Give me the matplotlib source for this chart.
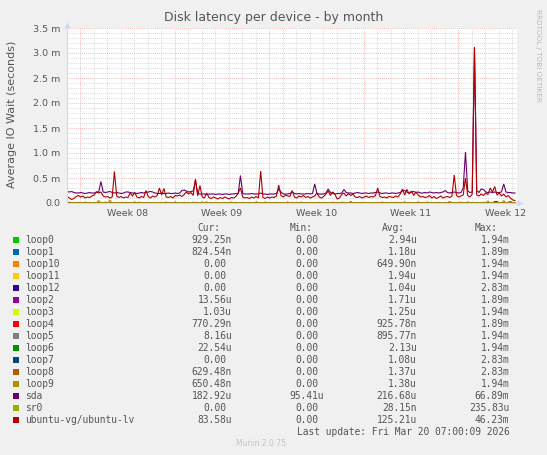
import numpy as np
import matplotlib
matplotlib.use("Agg")
import matplotlib.pyplot as plt
from matplotlib.patches import Rectangle

# ---- data (values in milliseconds, 4-hour samples) ----
start_day = -0.95          # days relative to Monday of week 08
step_day = 1 / 6

sda = [0.23, 0.22, 0.23, 0.21, 0.20, 0.20, 0.21, 0.20, 0.19, 0.20,
       0.21, 0.20, 0.20, 0.21, 0.22, 0.43, 0.22, 0.21, 0.22, 0.23,
       0.21, 0.20, 0.21, 0.20, 0.19, 0.20, 0.22, 0.22, 0.21, 0.20,
       0.20, 0.19, 0.20, 0.21, 0.20, 0.21, 0.22, 0.23, 0.22, 0.20,
       0.19, 0.19, 0.20, 0.19, 0.19, 0.20, 0.19, 0.19, 0.20, 0.19,
       0.20, 0.25, 0.26, 0.24, 0.22, 0.23, 0.24, 0.45, 0.20, 0.18,
       0.18, 0.18, 0.17, 0.18, 0.18, 0.18, 0.17, 0.18, 0.18, 0.17,
       0.18, 0.18, 0.17, 0.18, 0.18, 0.19, 0.18, 0.55, 0.19, 0.18,
       0.18, 0.18, 0.19, 0.18, 0.18, 0.18, 0.20, 0.18, 0.18, 0.17,
       0.18, 0.18, 0.18, 0.19, 0.28, 0.22, 0.18, 0.18, 0.18, 0.19,
       0.22, 0.19, 0.18, 0.19, 0.18, 0.18, 0.18, 0.19, 0.18, 0.19,
       0.38, 0.19, 0.18, 0.18, 0.18, 0.20, 0.28, 0.21, 0.19, 0.18,
       0.19, 0.19, 0.20, 0.27, 0.21, 0.20, 0.20, 0.19, 0.20, 0.21,
       0.20, 0.19, 0.20, 0.20, 0.19, 0.20, 0.20, 0.21, 0.22, 0.20,
       0.19, 0.20, 0.20, 0.19, 0.20, 0.20, 0.19, 0.20, 0.21, 0.24,
       0.25, 0.22, 0.20, 0.22, 0.23, 0.21, 0.22, 0.20, 0.20, 0.21,
       0.20, 0.22, 0.21, 0.20, 0.21, 0.20, 0.21, 0.22, 0.25, 0.21,
       0.20, 0.21, 0.22, 0.21, 0.20, 0.21, 0.30, 1.02, 0.24, 0.21,
       0.22, 3.12, 0.25, 0.21, 0.28, 0.27, 0.22, 0.21, 0.22, 0.21,
       0.22, 0.21, 0.21, 0.22, 0.38, 0.22, 0.21, 0.21, 0.20, 0.20]

ubuntu_lv = [0.13, 0.10, 0.07, 0.09, 0.13, 0.15, 0.12, 0.14, 0.10, 0.12,
             0.11, 0.14, 0.16, 0.23, 0.20, 0.22, 0.14, 0.12, 0.13, 0.10,
             0.12, 0.63, 0.14, 0.11, 0.13, 0.10, 0.12, 0.11, 0.20, 0.14,
             0.21, 0.12, 0.10, 0.13, 0.11, 0.25, 0.13, 0.10, 0.14, 0.12,
             0.15, 0.30, 0.16, 0.29, 0.12, 0.11, 0.13, 0.10, 0.15, 0.14,
             0.16, 0.13, 0.17, 0.22, 0.18, 0.21, 0.15, 0.48, 0.14, 0.35,
             0.12, 0.10, 0.20, 0.11, 0.09, 0.12, 0.10, 0.08, 0.11, 0.09,
             0.12, 0.10, 0.08, 0.11, 0.10, 0.13, 0.20, 0.30, 0.12, 0.10,
             0.11, 0.09, 0.12, 0.10, 0.13, 0.10, 0.64, 0.11, 0.09, 0.12,
             0.10, 0.12, 0.11, 0.14, 0.36, 0.15, 0.12, 0.16, 0.14, 0.13,
             0.25, 0.12, 0.10, 0.14, 0.12, 0.15, 0.11, 0.13, 0.10, 0.12,
             0.14, 0.20, 0.12, 0.10, 0.13, 0.18, 0.24, 0.15, 0.22, 0.17,
             0.08, 0.10, 0.17, 0.20, 0.14, 0.19, 0.15, 0.18, 0.12, 0.11,
             0.13, 0.10, 0.12, 0.14, 0.11, 0.13, 0.12, 0.15, 0.30, 0.13,
             0.11, 0.12, 0.10, 0.13, 0.12, 0.11, 0.14, 0.12, 0.18, 0.28,
             0.16, 0.27, 0.18, 0.24, 0.15, 0.22, 0.16, 0.12, 0.13, 0.11,
             0.12, 0.15, 0.10, 0.13, 0.09, 0.11, 0.14, 0.10, 0.12, 0.13,
             0.11, 0.14, 0.56, 0.15, 0.12, 0.14, 0.16, 0.50, 0.15, 0.12,
             0.18, 3.10, 0.16, 0.14, 0.18, 0.15, 0.20, 0.17, 0.30, 0.22,
             0.33, 0.16, 0.20, 0.14, 0.18, 0.12, 0.15, 0.10, 0.06, 0.05]

# small blips of the loop devices: sample index -> value (ms), zero elsewhere
loop_blips = {
    "loop0": {1: 0.02, 8: 0.02, 17: 0.02, 32: 0.02, 44: 0.02, 60: 0.02, 73: 0.02,
              88: 0.02, 104: 0.02, 122: 0.02, 140: 0.02, 160: 0.02, 175: 0.02, 196: 0.02},
    "loop1": {30: 0.02, 62: 0.02, 98: 0.02, 150: 0.02, 178: 0.02},
    "loop10": {56: 0.02, 118: 0.02},
    "loop11": {5: 0.02, 26: 0.02, 52: 0.02, 75: 0.02, 93: 0.02, 112: 0.02,
               131: 0.02, 146: 0.02, 165: 0.02, 185: 0.02},
    "loop12": {},
    "loop2": {190: 0.03, 191: 0.03, 197: 0.03},
    "loop3": {10: 0.02, 40: 0.02, 70: 0.02, 100: 0.02, 135: 0.02},
    "loop4": {},
    "loop5": {},
    "loop6": {48: 0.02, 84: 0.02, 156: 0.02},
    "loop7": {},
    "loop8": {126: 0.03, 170: 0.03},
    "loop9": {14: 0.05, 19: 0.06, 187: 0.04, 194: 0.05},
}

names = ["loop0", "loop1", "loop10", "loop11", "loop12", "loop2", "loop3", "loop4",
         "loop5", "loop6", "loop7", "loop8", "loop9", "sda", "sr0", "ubuntu-vg/ubuntu-lv"]
colors = ["#00CC00", "#0066B3", "#FF8000", "#FFCC00", "#330099", "#990099", "#CCFF00",
          "#FF0000", "#808080", "#008F00", "#00487D", "#B35A00", "#B38F00", "#6B006B",
          "#8FB300", "#B30000"]
cur = ["929.25n", "824.54n", "0.00", "0.00", "0.00", "13.56u", "1.03u", "770.29n",
       "8.16u", "22.54u", "0.00", "629.48n", "650.48n", "182.92u", "0.00", "83.58u"]
mins = ["0.00"] * 13 + ["95.41u", "0.00", "0.00"]
avgs = ["2.94u", "1.18u", "649.90n", "1.94u", "1.04u", "1.71u", "1.25u", "925.78n",
        "895.77n", "2.13u", "1.08u", "1.37u", "1.38u", "216.68u", "28.15n", "125.21u"]
maxs = ["1.94m", "1.89m", "1.94m", "1.94m", "2.83m", "1.89m", "1.94m", "1.89m",
        "1.94m", "1.94m", "2.83m", "2.83m", "1.94m", "66.89m", "235.83u", "46.23m"]

week_labels = ["Week 08", "Week 09", "Week 10", "Week 11", "Week 12"]
y_ticks = [0.0, 0.5, 1.0, 1.5, 2.0, 2.5, 3.0, 3.5]
y_ticklabels = ["0.0", "0.5 m", "1.0 m", "1.5 m", "2.0 m", "2.5 m", "3.0 m", "3.5 m"]

# ---- build series ----
n = len(sda)
t = start_day + step_day * np.arange(n)
series = {}
for name, blips in loop_blips.items():
    vals = np.zeros(n)
    for i, v in blips.items():
        vals[i] = v
    series[name] = vals
series["sda"] = np.array(sda)
series["sr0"] = np.zeros(n)
series["ubuntu-vg/ubuntu-lv"] = np.array(ubuntu_lv)

# ---- figure ----
W, H = 547, 455
txt = "#555555"
fig = plt.figure(figsize=(W / 100, H / 100), dpi=100, facecolor="#F0F0F0")
ax = fig.add_axes([67 / W, (H - 203) / H, (516.5 - 67) / W, 175 / H])
ax.set_facecolor("white")

for name, col in zip(names, colors):
    ax.plot(t, series[name], color=col, lw=0.8, solid_joinstyle="miter")

ax.set_xlim(-0.963, 32.33)
ax.set_ylim(0, 3.5)
ax.set_xticks([0, 7, 14, 21, 28])
ax.set_xticks(np.arange(-0, 33), minor=True)
ax.set_yticks(y_ticks)
ax.set_yticklabels(y_ticklabels)
ax.set_yticks(np.arange(0, 3.51, 0.1), minor=True)
ax.grid(which="minor", color="#CCCCCC", linestyle=(0, (1, 1.5)), lw=0.6)
ax.grid(which="major", color="#F0A0A0", linestyle=(0, (1, 1.5)), lw=0.6)
ax.set_axisbelow(True)
ax.tick_params(which="both", length=0)
ax.tick_params(axis="y", labelsize=6.8, labelcolor=txt, pad=5)
ax.set_xticklabels([])
for k, lab in enumerate(week_labels):
    ax.text(3.5 + 7 * k, -0.058, lab, transform=ax.get_xaxis_transform(),
            ha="center", va="center", fontsize=6.8, color=txt)
for s in ["top", "right"]:
    ax.spines[s].set_visible(False)
for s in ["left", "bottom"]:
    ax.spines[s].set_color("#CFD6F8")
    ax.spines[s].set_linewidth(0.8)

# ---- overlay in pixel coordinates ----
ov = fig.add_axes([0, 0, 1, 1], facecolor="none")
ov.set_xlim(0, W)
ov.set_ylim(H, 0)
ov.axis("off")

ov.plot([67], [24.5], marker="^", ms=4, color="#CFD6F8", mec="none")
ov.plot([520], [203], marker=">", ms=4, color="#CFD6F8", mec="none")

ov.text(274, 18, "Disk latency per device - by month", ha="center", va="center",
        fontsize=9, color=txt)
ov.text(12, 114, "Average IO Wait (seconds)", rotation=90, ha="center", va="center",
        fontsize=8, color=txt)
ov.text(538, 55, "RRDTOOL / TOBI OETIKER", rotation=270, ha="center", va="center",
        fontsize=5.2, color="#BBBBBB")

mono = "DejaVu Sans Mono"
fs = 6.9
cw = 5.76
col_end = [232, 324.3, 416.7, 509.3]
for x_end, head in zip(col_end, ["Cur:", "Min:", "Avg:", "Max:"]):
    ov.text(x_end - 2 * cw, 228, head, ha="right", va="center", family=mono,
            fontsize=fs, color=txt)

for k, name in enumerate(names):
    y = 239.7 + 12 * k
    ov.add_patch(Rectangle((13, y - 3), 6, 6, color=colors[k], lw=0))
    ov.text(25, y, name, ha="left", va="center", family=mono, fontsize=fs, color=txt)
    for x_end, val in zip(col_end, [cur[k], mins[k], avgs[k], maxs[k]]):
        xe = x_end if val[-1].isalpha() else x_end - cw
        ov.text(xe, y, val, ha="right", va="center", family=mono, fontsize=fs, color=txt)

ov.text(509.3, 431.7, "Last update: Fri Mar 20 07:00:09 2026", ha="right", va="center",
        family=mono, fontsize=fs, color=txt)
ov.text(261, 444, "Munin 2.0.75", ha="center", va="center", fontsize=5.5, color="#C4C4C4")

fig.savefig("out.png", dpi=100, facecolor=fig.get_facecolor())
